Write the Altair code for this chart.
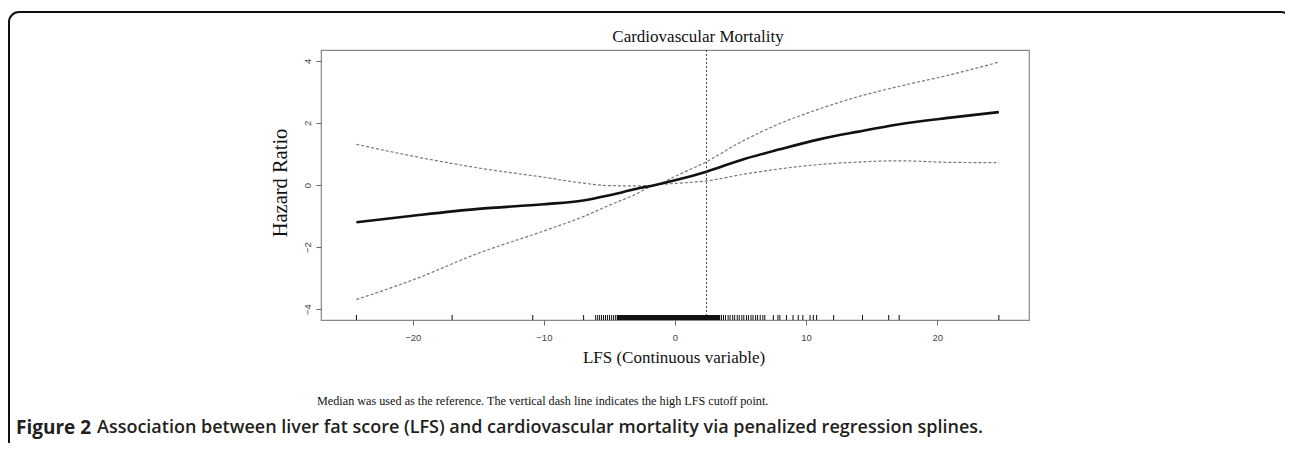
import altair as alt
import pandas as pd

# ---- data ----
lfs = [-24.3, -20, -15, -10, -7, -5, -3, -1.5, 0, 2.4, 5, 8, 11, 14, 17, 21, 24.7]
fit = [-1.2, -0.99, -0.77, -0.62, -0.5, -0.33, -0.13, 0.0, 0.15, 0.43, 0.8, 1.15, 1.47, 1.72, 1.95, 2.17, 2.35]
upper = [1.31, 0.93, 0.55, 0.25, 0.06, -0.02, -0.03, 0.0, 0.28, 0.75, 1.38, 1.98, 2.45, 2.85, 3.17, 3.55, 3.96]
lower = [-3.69, -3.06, -2.2, -1.48, -1.02, -0.65, -0.3, 0.0, 0.05, 0.13, 0.33, 0.52, 0.66, 0.74, 0.78, 0.73, 0.72]

rug = [-24.3, -17.0, -10.85, -6.97, -6.05, -5.9, -5.75, -5.6, -5.45, -5.3, -5.15, -5.0,
       -4.85, -4.7, -4.55, 3.55, 3.7, 3.85, 4.05, 4.2, 4.4, 4.55, 4.75, 4.9, 5.1, 5.25,
       5.45, 5.6, 5.8, 5.95, 6.15, 6.3, 6.5, 6.7, 6.85, 7.5, 7.85, 8.0, 8.5, 9.0, 9.4,
       9.75, 10.3, 10.55, 10.8, 12.1, 14.3, 16.3, 17.1, 24.7]
rug_dense_lo = [-4.45]
rug_dense_hi = [3.45]
cutoff = [2.4]

x_ticks = [-20, -10, 0, 10, 20]
y_ticks = [-4, -2, 0, 2, 4]

title_text = "Cardiovascular Mortality"
y_title = "Hazard Ratio"
x_title = "LFS (Continuous variable)"
note_text = "Median was used as the reference. The vertical dash line indicates the high LFS cutoff point."
fig_bold = "Figure 2"
fig_rest = "Association between liver fat score (LFS) and cardiovascular mortality via penalized regression splines."

# ---- chart ----
W, H = 708, 270
xs = alt.Scale(domain=[-27, 27], nice=False, zero=False)
ys = alt.Scale(domain=[-4.35, 4.35], nice=False, zero=False)

xaxis = alt.Axis(values=x_ticks, title=None, grid=False, domain=False, tickSize=5,
                 tickColor="#666", labelFont="Liberation Sans", labelFontSize=9.5,
                 labelColor="#444", labelPadding=7, format="d")
yaxis = alt.Axis(values=y_ticks, title=None, grid=False, domain=False, tickSize=5,
                 tickColor="#666", labelFont="Liberation Sans", labelFontSize=9.5,
                 labelColor="#444", labelAngle=270, labelAlign="center",
                 labelBaseline="bottom", labelPadding=4, format="d")

df = pd.DataFrame({"x": lfs, "fit": fit, "upper": upper, "lower": lower})

def curve(field, **kw):
    return alt.Chart(df).mark_line(interpolate="monotone", **kw).encode(
        x=alt.X("x:Q", scale=xs, axis=xaxis),
        y=alt.Y(f"{field}:Q", scale=ys, axis=yaxis),
    )

up_line = curve("upper", color="#777", strokeWidth=1.2, strokeDash=[3, 2])
lo_line = curve("lower", color="#777", strokeWidth=1.2, strokeDash=[3, 2])
fit_line = curve("fit", color="#111", strokeWidth=2.6)

cut_rule = alt.Chart(pd.DataFrame({"c": cutoff})).mark_rule(
    color="#444", strokeWidth=1, strokeDash=[2, 2]
).encode(x=alt.X("c:Q", scale=xs, axis=xaxis), y=alt.value(0), y2=alt.value(H))

rug_rule = alt.Chart(pd.DataFrame({"r": rug})).mark_rule(color="#111", strokeWidth=1).encode(
    x=alt.X("r:Q", scale=xs, axis=xaxis), y=alt.value(H - 5), y2=alt.value(H)
)
rug_band = alt.Chart(pd.DataFrame({"lo": rug_dense_lo, "hi": rug_dense_hi})).mark_rect(
    color="#111"
).encode(x=alt.X("lo:Q", scale=xs, axis=xaxis), x2="hi:Q", y=alt.value(H - 5), y2=alt.value(H))

one = pd.DataFrame({"a": [0]})

def label(text, x, y, **kw):
    return alt.Chart(one).mark_text(text=text, **kw).encode(x=alt.value(x), y=alt.value(y))

title = label(title_text, 377, -13, font="Liberation Serif", fontSize=17, color="#111")
ylab = label(y_title, -40, 133, font="Liberation Serif", fontSize=20.5, color="#111", angle=270)
xlab = label(x_title, 353, 308, font="Liberation Serif", fontSize=17, color="#111")
note = label(note_text, -4, 351, font="Liberation Serif", fontSize=12.2, color="#111", align="left")
figb = label(fig_bold, -305, 378, font="Open Sans", fontSize=19, fontWeight="bold", color="#231f20", align="left")
figr = label(fig_rest, -224, 378, font="Open Sans", fontSize=18, fontWeight=600, color="#231f20", align="left")

frame = alt.Chart(one).mark_rect(
    fillOpacity=0, stroke="#111", strokeWidth=2, cornerRadius=10
).encode(x=alt.value(-312), x2=alt.value(970), y=alt.value(-38), y2=alt.value(460))

chart = alt.layer(
    frame, up_line, lo_line, fit_line, cut_rule, rug_band, rug_rule,
    title, ylab, xlab, note, figb, figr
).properties(
    width=W, height=H,
    padding={"left": 313, "top": 42, "right": 256, "bottom": 123},
    autosize=alt.AutoSizeParams(type="none"),
).configure_view(stroke="#888", strokeWidth=1.2)

chart.save("out.html", embed_options={"renderer": "svg", "actions": False})
